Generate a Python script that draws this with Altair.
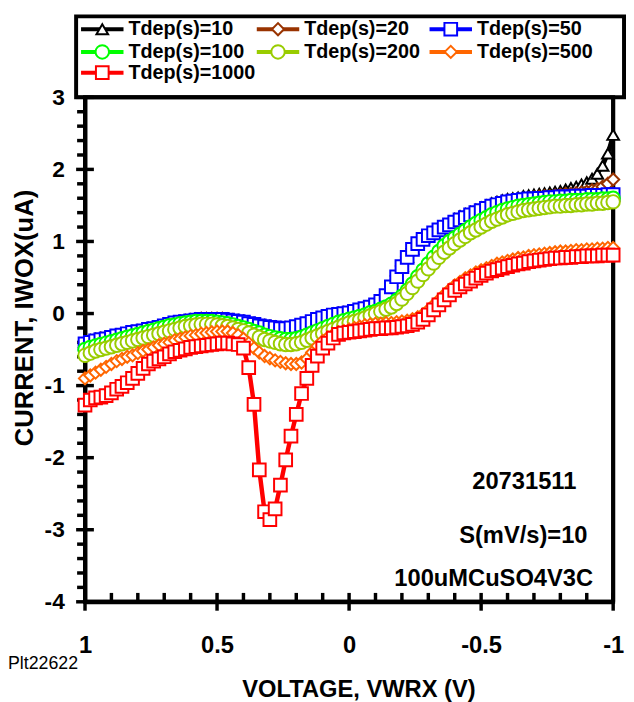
import altair as alt
import pandas as pd

voltage = [1.00, 0.98, 0.96, 0.94, 0.92, 0.90, 0.88, 0.86, 0.84, 0.82,
           0.80, 0.78, 0.76, 0.74, 0.72, 0.70, 0.68, 0.66, 0.64, 0.62,
           0.60, 0.58, 0.56, 0.54, 0.52, 0.50, 0.48, 0.46, 0.44, 0.42,
           0.40, 0.38, 0.36, 0.34, 0.32, 0.30, 0.28, 0.26, 0.24, 0.22,
           0.20, 0.18, 0.16, 0.14, 0.12, 0.10, 0.08, 0.06, 0.04, 0.02,
           0.00, -0.02, -0.04, -0.06, -0.08, -0.10, -0.12, -0.14, -0.16, -0.18,
           -0.20, -0.22, -0.24, -0.26, -0.28, -0.30, -0.32, -0.34, -0.36, -0.38,
           -0.40, -0.42, -0.44, -0.46, -0.48, -0.50, -0.52, -0.54, -0.56, -0.58,
           -0.60, -0.62, -0.64, -0.66, -0.68, -0.70, -0.72, -0.74, -0.76, -0.78,
           -0.80, -0.82, -0.84, -0.86, -0.88, -0.90, -0.92, -0.94, -0.96, -0.98, -1.00]

cur_10 = [-0.39, -0.37, -0.36, -0.34, -0.33, -0.31, -0.30, -0.28, -0.27, -0.25,
          -0.24, -0.23, -0.21, -0.20, -0.18, -0.16, -0.14, -0.12, -0.11, -0.10,
          -0.09, -0.08, -0.07, -0.07, -0.07, -0.07, -0.07, -0.08, -0.09, -0.10,
          -0.11, -0.13, -0.14, -0.16, -0.17, -0.18, -0.19, -0.20, -0.20, -0.19,
          -0.17, -0.15, -0.13, -0.10, -0.07, -0.05, -0.03, -0.01, 0.00, 0.01,
          0.02, 0.04, 0.06, 0.08, 0.10, 0.13, 0.18, 0.26, 0.38, 0.52,
          0.66, 0.79, 0.90, 0.99, 1.05, 1.10, 1.15, 1.19, 1.23, 1.27,
          1.31, 1.35, 1.38, 1.41, 1.44, 1.47, 1.50, 1.53, 1.55, 1.57,
          1.59, 1.60, 1.61, 1.63, 1.64, 1.65, 1.66, 1.67, 1.68, 1.69,
          1.70, 1.72, 1.74, 1.76, 1.79, 1.82, 1.87, 1.94, 2.05, 2.22, 2.48]

cur_20 = [-0.40, -0.38, -0.36, -0.35, -0.33, -0.32, -0.30, -0.29, -0.27, -0.26,
          -0.24, -0.23, -0.21, -0.20, -0.18, -0.16, -0.14, -0.13, -0.11, -0.10,
          -0.09, -0.08, -0.07, -0.07, -0.07, -0.07, -0.07, -0.08, -0.09, -0.10,
          -0.11, -0.13, -0.14, -0.16, -0.17, -0.18, -0.19, -0.20, -0.20, -0.19,
          -0.17, -0.15, -0.13, -0.10, -0.08, -0.05, -0.03, -0.01, 0.00, 0.01,
          0.02, 0.04, 0.06, 0.08, 0.10, 0.13, 0.18, 0.26, 0.38, 0.52,
          0.66, 0.79, 0.90, 0.98, 1.04, 1.09, 1.13, 1.17, 1.21, 1.24,
          1.28, 1.31, 1.34, 1.38, 1.41, 1.44, 1.47, 1.50, 1.52, 1.54,
          1.56, 1.57, 1.58, 1.59, 1.60, 1.61, 1.62, 1.63, 1.63, 1.64,
          1.65, 1.66, 1.66, 1.67, 1.68, 1.69, 1.71, 1.73, 1.76, 1.80, 1.86]

cur_50 = [-0.42, -0.40, -0.38, -0.36, -0.35, -0.33, -0.31, -0.30, -0.28, -0.26,
          -0.25, -0.24, -0.22, -0.21, -0.19, -0.17, -0.15, -0.13, -0.12, -0.11,
          -0.10, -0.09, -0.08, -0.08, -0.08, -0.08, -0.08, -0.09, -0.10, -0.11,
          -0.12, -0.14, -0.15, -0.17, -0.18, -0.19, -0.20, -0.21, -0.21, -0.20,
          -0.18, -0.16, -0.14, -0.11, -0.08, -0.06, -0.04, -0.02, -0.01, 0.00,
          0.01, 0.03, 0.05, 0.07, 0.09, 0.12, 0.17, 0.25, 0.37, 0.51,
          0.65, 0.78, 0.89, 0.97, 1.03, 1.08, 1.12, 1.16, 1.20, 1.23,
          1.27, 1.30, 1.33, 1.37, 1.40, 1.43, 1.46, 1.49, 1.51, 1.53,
          1.55, 1.56, 1.57, 1.58, 1.59, 1.59, 1.60, 1.60, 1.61, 1.61,
          1.62, 1.62, 1.62, 1.63, 1.63, 1.63, 1.64, 1.64, 1.64, 1.65, 1.65]

cur_100 = [-0.50, -0.47, -0.45, -0.43, -0.41, -0.39, -0.37, -0.35, -0.33, -0.31,
           -0.29, -0.27, -0.25, -0.23, -0.21, -0.19, -0.17, -0.16, -0.14, -0.13,
           -0.12, -0.11, -0.11, -0.11, -0.11, -0.12, -0.13, -0.14, -0.16, -0.18,
           -0.20, -0.22, -0.25, -0.27, -0.30, -0.32, -0.34, -0.35, -0.36, -0.36,
           -0.35, -0.33, -0.30, -0.27, -0.24, -0.21, -0.18, -0.15, -0.12, -0.10,
           -0.08, -0.06, -0.04, -0.02, 0.01, 0.03, 0.06, 0.09, 0.13, 0.18,
           0.24, 0.32, 0.41, 0.51, 0.60, 0.69, 0.78, 0.86, 0.94, 1.00,
           1.05, 1.10, 1.15, 1.20, 1.25, 1.29, 1.33, 1.37, 1.40, 1.43,
           1.45, 1.47, 1.49, 1.50, 1.51, 1.52, 1.53, 1.54, 1.55, 1.55,
           1.56, 1.56, 1.57, 1.57, 1.57, 1.58, 1.58, 1.58, 1.59, 1.59, 1.60]

cur_200 = [-0.58, -0.55, -0.52, -0.50, -0.48, -0.46, -0.44, -0.42, -0.40, -0.38,
           -0.36, -0.34, -0.32, -0.30, -0.28, -0.26, -0.24, -0.22, -0.20, -0.18,
           -0.17, -0.16, -0.15, -0.15, -0.15, -0.16, -0.17, -0.18, -0.20, -0.22,
           -0.24, -0.27, -0.30, -0.33, -0.36, -0.38, -0.40, -0.42, -0.43, -0.43,
           -0.42, -0.40, -0.37, -0.34, -0.31, -0.28, -0.25, -0.22, -0.19, -0.16,
           -0.13, -0.11, -0.09, -0.06, -0.03, 0.00, 0.03, 0.06, 0.09, 0.14,
           0.20, 0.28, 0.36, 0.45, 0.54, 0.62, 0.70, 0.78, 0.85, 0.91,
           0.97, 1.02, 1.07, 1.12, 1.16, 1.20, 1.24, 1.28, 1.31, 1.34,
           1.37, 1.39, 1.41, 1.43, 1.44, 1.45, 1.46, 1.47, 1.48, 1.49,
           1.49, 1.50, 1.50, 1.51, 1.51, 1.52, 1.52, 1.53, 1.53, 1.54, 1.55]

cur_500 = [-0.90, -0.86, -0.82, -0.78, -0.74, -0.70, -0.66, -0.63, -0.60, -0.58,
           -0.55, -0.52, -0.50, -0.47, -0.44, -0.42, -0.40, -0.37, -0.35, -0.33,
           -0.31, -0.30, -0.28, -0.27, -0.26, -0.25, -0.25, -0.25, -0.27, -0.30,
           -0.35, -0.41, -0.48, -0.54, -0.59, -0.62, -0.65, -0.67, -0.69, -0.70,
           -0.70, -0.68, -0.63, -0.54, -0.45, -0.38, -0.33, -0.29, -0.26, -0.24,
           -0.22, -0.20, -0.18, -0.16, -0.15, -0.14, -0.14, -0.13, -0.13, -0.12,
           -0.11, -0.10, -0.08, -0.05, -0.01, 0.05, 0.12, 0.19, 0.26, 0.33,
           0.39, 0.44, 0.49, 0.53, 0.57, 0.60, 0.63, 0.66, 0.69, 0.71,
           0.73, 0.75, 0.77, 0.78, 0.80, 0.81, 0.82, 0.83, 0.84, 0.85,
           0.86, 0.86, 0.87, 0.88, 0.88, 0.89, 0.89, 0.90, 0.90, 0.91, 0.91]

cur_1000 = [-1.27, -1.20, -1.17, -1.16, -1.14, -1.10, -1.05, -1.01, -0.96, -0.90,
            -0.83, -0.76, -0.70, -0.66, -0.63, -0.60, -0.56, -0.53, -0.51, -0.49,
            -0.47, -0.46, -0.45, -0.44, -0.43, -0.42, -0.41, -0.41, -0.42, -0.43,
            -0.48, -0.75, -1.26, -2.17, -2.75, -2.86, -2.71, -2.38, -2.03, -1.70,
            -1.40, -1.11, -0.90, -0.72, -0.59, -0.48, -0.41, -0.34, -0.29, -0.27,
            -0.26, -0.25, -0.24, -0.23, -0.22, -0.21, -0.21, -0.20, -0.20, -0.19,
            -0.18, -0.17, -0.15, -0.12, -0.08, -0.02, 0.05, 0.12, 0.19, 0.26,
            0.32, 0.37, 0.41, 0.45, 0.49, 0.53, 0.56, 0.59, 0.61, 0.63,
            0.65, 0.67, 0.69, 0.70, 0.72, 0.73, 0.74, 0.75, 0.76, 0.77,
            0.77, 0.78, 0.78, 0.79, 0.79, 0.80, 0.80, 0.80, 0.81, 0.81, 0.81]

series_names = ["Tdep(s)=10", "Tdep(s)=20", "Tdep(s)=50", "Tdep(s)=100",
                "Tdep(s)=200", "Tdep(s)=500", "Tdep(s)=1000"]
series_values = [cur_10, cur_20, cur_50, cur_100, cur_200, cur_500, cur_1000]
series_colors = ["#000000", "#993300", "#0000FF", "#00FF00", "#99CC00", "#FF6600", "#FF0000"]
series_shapes = ["triangle-up", "diamond", "square", "circle", "circle", "diamond", "square"]
marker_sizes = [140, 150, 165, 185, 185, 150, 165]

x_major = [1, 0.5, 0, -0.5, -1]
x_minor = [0.9, 0.8, 0.7, 0.6, 0.4, 0.3, 0.2, 0.1, -0.1, -0.2, -0.3, -0.4,
           -0.6, -0.7, -0.8, -0.9]
y_major = [-4, -3, -2, -1, 0, 1, 2, 3]
y_minor = [-3.8, -3.6, -3.4, -3.2, -2.8, -2.6, -2.4, -2.2, -1.8, -1.6, -1.4, -1.2,
           -0.8, -0.6, -0.4, -0.2, 0.2, 0.4, 0.6, 0.8, 1.2, 1.4, 1.6, 1.8,
           2.2, 2.4, 2.6, 2.8]

notes = ["20731511", "S(mV/s)=10", "100uMCuSO4V3C"]
plot_id = "Plt22622"
x_title = "VOLTAGE, VWRX (V)"
y_title = "CURRENT, IWOX(uA)"

FONT = "Liberation Sans"
W, H = 535, 511

xscale = alt.Scale(domain=[-1, 1], reverse=True, nice=False, zero=False)
yscale = alt.Scale(domain=[-4, 3], nice=False, zero=False)

x_axis = alt.Axis(values=x_major, labelExpr="'' + datum.value", labelFont=FONT,
                  labelFontSize=24, labelFontWeight="bold", labelColor="black",
                  labelPadding=32, labelFlush=False, labelOverlap=False,
                  ticks=False, tickSize=0, domain=True, domainColor="black",
                  domainWidth=4, grid=False,
                  title=x_title, titleFont=FONT, titleFontSize=24,
                  titleFontWeight="bold", titleColor="black", titleX=277, titleY=89,
                  titleAlign="center", titleBaseline="middle")
y_axis = alt.Axis(values=y_major, labelExpr="'' + datum.value", labelFont=FONT,
                  labelFontSize=23, labelFontWeight="bold", labelColor="black",
                  labelPadding=21, labelOverlap=False, labelFlush=False,
                  ticks=False, tickSize=0, domain=True, domainColor="black",
                  domainWidth=4, grid=False,
                  title=y_title, titleFont=FONT, titleFontSize=26,
                  titleFontWeight="bold", titleColor="black", titleX=-61, titleY=223,
                  titleAngle=270, titleAlign="center", titleBaseline="middle")


def xenc(field):
    return alt.X(f"{field}:Q", scale=xscale, axis=x_axis)


def yenc(field):
    return alt.Y(f"{field}:Q", scale=yscale, axis=y_axis)


one = pd.DataFrame({"a": [0]})
layers = []

# plot frame (left, top, right, bottom)
layers.append(alt.Chart(one).mark_rule(color="black", strokeWidth=4)
              .encode(x=alt.value(0), y=alt.value(0), y2=alt.value(H)))
layers.append(alt.Chart(one).mark_rule(color="black", strokeWidth=4)
              .encode(x=alt.value(W), y=alt.value(0), y2=alt.value(H)))
layers.append(alt.Chart(one).mark_rule(color="black", strokeWidth=4)
              .encode(y=alt.value(H), x=alt.value(0), x2=alt.value(W)))

# axis ticks
layers.append(alt.Chart(pd.DataFrame({"v": x_major})).mark_rule(color="black", strokeWidth=3.5)
              .encode(x=xenc("v"), y=alt.value(H - 9), y2=alt.value(H + 9)))
layers.append(alt.Chart(pd.DataFrame({"v": x_minor})).mark_rule(color="black", strokeWidth=3.5)
              .encode(x=xenc("v"), y=alt.value(H - 9), y2=alt.value(H)))
layers.append(alt.Chart(pd.DataFrame({"v": y_major})).mark_rule(color="black", strokeWidth=3.5)
              .encode(y=yenc("v"), x=alt.value(-9), x2=alt.value(9)))
layers.append(alt.Chart(pd.DataFrame({"v": y_minor})).mark_rule(color="black", strokeWidth=3.5)
              .encode(y=yenc("v"), x=alt.value(-8), x2=alt.value(0)))

# series
for name, vals, col, shp, sz in zip(series_names, series_values, series_colors,
                                    series_shapes, marker_sizes):
    d = pd.DataFrame({"V": voltage, "I": vals})
    layers.append(alt.Chart(d).mark_line(color=col, strokeWidth=4.5, clip=False)
                  .encode(x=xenc("V"), y=yenc("I")))
    layers.append(alt.Chart(d).mark_point(shape=shp, size=sz, filled=True, fill="white",
                                          stroke=col, strokeWidth=2, opacity=1, clip=False)
                  .encode(x=xenc("V"), y=yenc("I")))

# legend box
layers.append(alt.Chart(one).mark_rect(fill="white", fillOpacity=0, stroke="black",
                                       strokeWidth=4)
              .encode(x=alt.value(-9), x2=alt.value(546), y=alt.value(-82), y2=alt.value(0)))

col_x = [-4, 174, 349]
row_y = [-69, -46, -25]
for i, (name, col, shp, sz) in enumerate(zip(series_names, series_colors,
                                             series_shapes, marker_sizes)):
    lx = col_x[i % 3]
    ly = row_y[i // 3]
    layers.append(alt.Chart(one).mark_rule(color=col, strokeWidth=4)
                  .encode(x=alt.value(lx), x2=alt.value(lx + 43), y=alt.value(ly)))
    layers.append(alt.Chart(one).mark_point(shape=shp, size=sz, filled=True, fill="white",
                                            stroke=col, strokeWidth=2, opacity=1)
                  .encode(x=alt.value(lx + 21.5), y=alt.value(ly)))
    layers.append(alt.Chart(one).mark_text(text=name, align="left", baseline="middle",
                                           font=FONT, fontSize=20, fontWeight="bold",
                                           color="black")
                  .encode(x=alt.value(lx + 48), y=alt.value(ly)))

# annotations
note_pos = [(445, 390), (444, 444), (414, 488)]
for txt, (px, py) in zip(notes, note_pos):
    layers.append(alt.Chart(one).mark_text(text=txt, align="center", baseline="middle",
                                           font=FONT, fontSize=24, fontWeight="bold",
                                           color="black")
                  .encode(x=alt.value(px), y=alt.value(py)))

layers.append(alt.Chart(one).mark_text(text=plot_id, align="left", baseline="middle",
                                       font=FONT, fontSize=18, color="black")
              .encode(x=alt.value(-78), y=alt.value(574)))

chart = (alt.layer(*layers)
         .properties(width=W, height=H,
                     autosize=alt.AutoSizeParams(type="none"),
                     padding={"left": 78, "top": 86, "right": 13, "bottom": 97})
         .configure_view(stroke="black", strokeWidth=4))

chart.save("out.html", embed_options={"renderer": "svg", "actions": False})
